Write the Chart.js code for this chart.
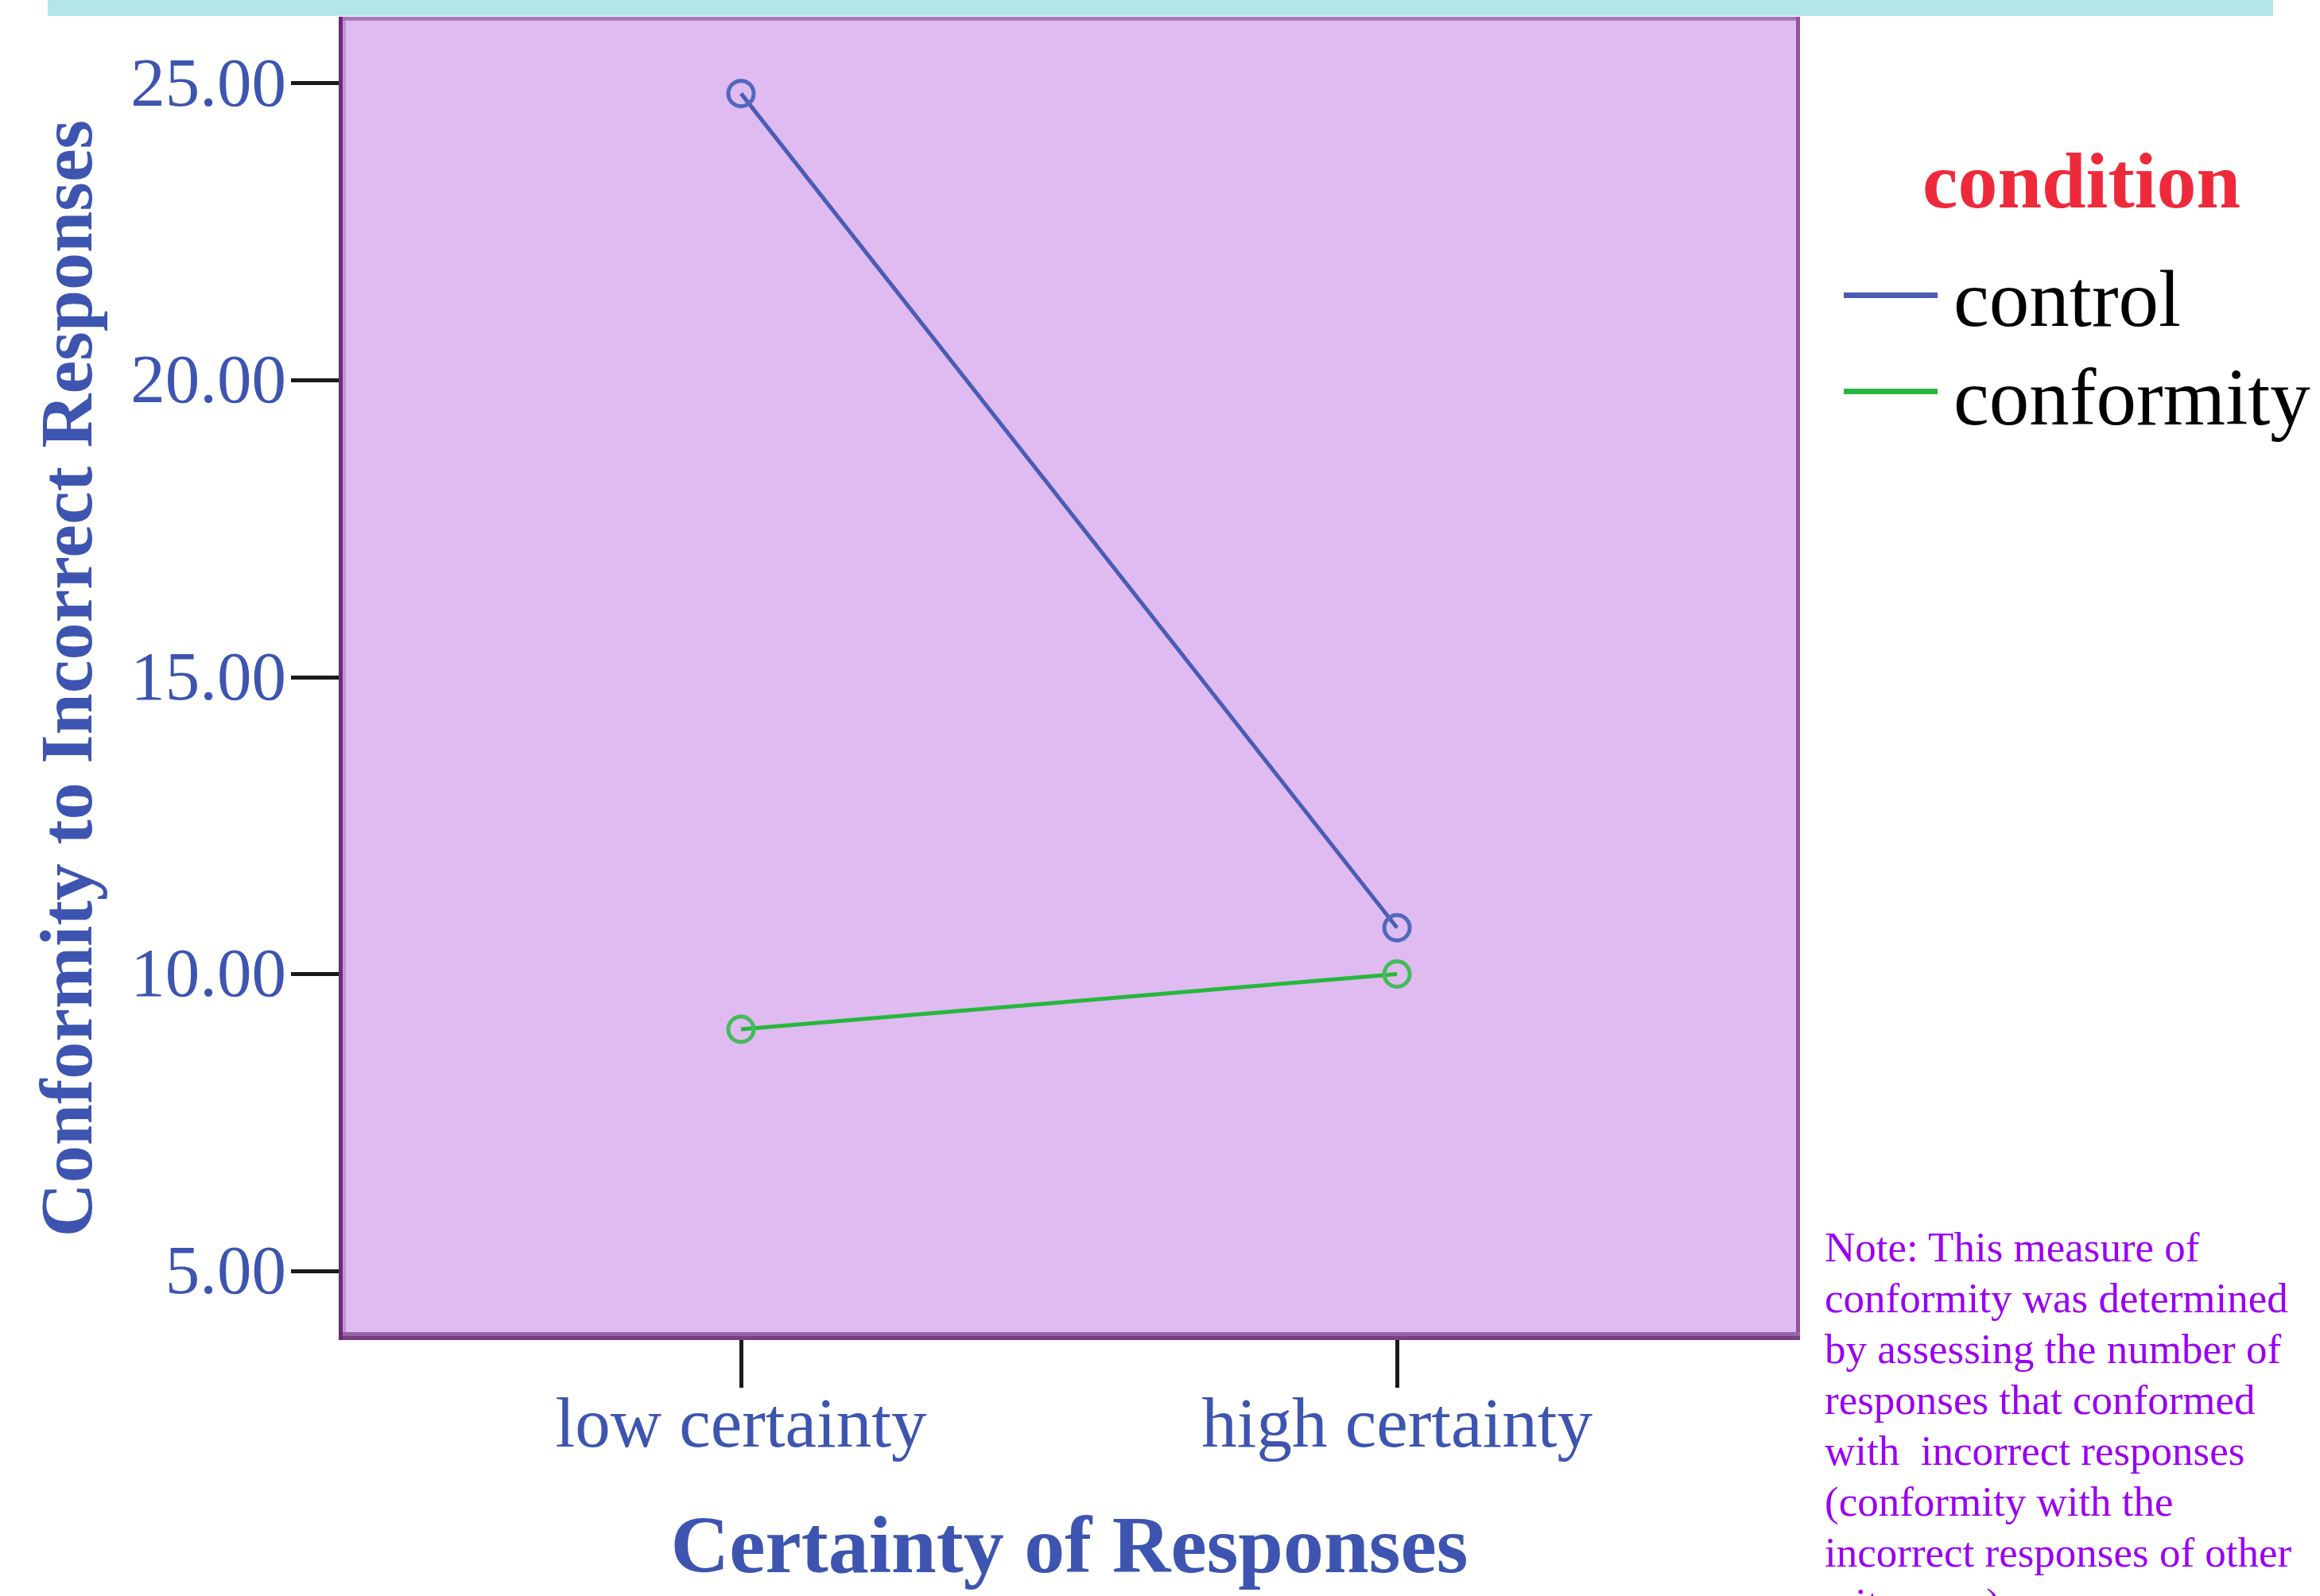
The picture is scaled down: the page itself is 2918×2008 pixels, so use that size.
<!DOCTYPE html>
<html>
<head>
<meta charset="utf-8">
<title>Conformity to Incorrect Responses by Certainty</title>
<script src="https://cdn.jsdelivr.net/npm/chart.js@4/dist/chart.umd.min.js"></script>
<style>
  html, body { margin: 0; padding: 0; background: #ffffff; }
  body { width: 2918px; height: 2008px; overflow: hidden; position: relative; }
  #wrap { position: absolute; left: 0; top: 0; width: 2918px; height: 2008px; }
  #topband { position: absolute; left: 60px; top: 0; width: 2799px; height: 20px; background: #b4e6e8; }
  .serif { font-family: 'Liberation Serif', 'Times New Roman', serif; }
  #legendTitle { position: absolute; left: 2418px; top: 178px; font-size: 100px; line-height: 100px; font-weight: bold; color: #ee2a3a; white-space: nowrap; }
  .legendItem { position: absolute; left: 2319px; height: 101px; white-space: nowrap; }
  .legendItem .swatch { position: absolute; left: 0; width: 118px; height: 7px; }
  .legendItem .label { position: absolute; left: 138px; top: 0; font-size: 101px; line-height: 101px; color: #000000; }
  #note { position: absolute; left: 2295px; top: 1537px; font-size: 53px; line-height: 64px; color: #9a00f2; white-space: pre; }
</style>
</head>
<body>
<div id="wrap">
  <canvas id="chart" width="2918" height="2008"></canvas>
</div>
<div id="topband"></div>
<div id="legendTitle" class="serif"></div>
<div id="legendItems"></div>
<div id="note" class="serif"></div>

<script>
// Category axis labels and the two condition series (means)
const categories = ['low certainty', 'high certainty'];
const controlMeans = [24.83, 10.78];
const conformityMeans = [9.07, 10.00];
const seriesNames = ['control', 'conformity'];
const seriesColors = ['#4a5cb4', '#26b83c'];
const markerColors = ['#5268bc', '#44bb5a'];
const yTickValues = [5, 10, 15, 20, 25];
const xTitle = 'Certainty of Responses';
const yTitle = 'Conformity to Incorrect Responses';
const legendTitle = 'condition';
const noteLines = [
  'Note: This measure of',
  'conformity was determined',
  'by assessing the number of',
  'responses that conformed',
  'with  incorrect responses',
  '(conformity with the',
  'incorrect responses of other',
  'witnesses).'
];

const SERIF = "'Liberation Serif', 'Times New Roman', serif";
const BLUE_TEXT = '#3d55b0';

// Lavender plot panel with its purple frame
const plotPanel = {
  id: 'plotPanel',
  beforeDraw(chart) {
    const { ctx, chartArea: a } = chart;
    ctx.save();
    ctx.fillStyle = '#dfbbf2';
    ctx.fillRect(a.left, a.top, a.right - a.left, a.bottom - a.top);
    ctx.restore();
  },
  afterDraw(chart) {
    const { ctx, chartArea: a } = chart;
    ctx.save();
    // top edge
    ctx.fillStyle = '#a976bd';
    ctx.fillRect(a.left, a.top, a.right - a.left, 5);
    // right edge
    ctx.fillStyle = '#9452a2';
    ctx.fillRect(a.right - 5, a.top, 5, a.bottom - a.top);
    // bottom edge (two tones)
    ctx.fillStyle = '#9664a6';
    ctx.fillRect(a.left, a.bottom - 10, a.right - a.left, 5);
    ctx.fillStyle = '#764182';
    ctx.fillRect(a.left, a.bottom - 5, a.right - a.left, 5);
    // left edge
    ctx.fillStyle = '#6b2a76';
    ctx.fillRect(a.left, a.top, 5, a.bottom - a.top);
    ctx.fillStyle = '#c592d6';
    ctx.fillRect(a.left + 5, a.top + 5, 4, a.bottom - a.top - 15);
    ctx.restore();
  }
};

const toPoints = (vals) => vals.map((v, i) => ({ x: i, y: v }));
const seriesValues = [controlMeans, conformityMeans];

new Chart(document.getElementById('chart'), {
  type: 'line',
  data: {
    datasets: seriesNames.map((name, i) => ({
      label: name,
      data: toPoints(seriesValues[i]),
      borderColor: seriesColors[i],
      borderWidth: 5,
      pointStyle: 'circle',
      pointRadius: 16,
      pointBorderWidth: 5,
      pointBorderColor: markerColors[i],
      pointBackgroundColor: 'rgba(0,0,0,0)',
      fill: false,
      tension: 0
    }))
  },
  options: {
    responsive: false,
    animation: false,
    devicePixelRatio: 1,
    layout: { padding: { left: 0, top: 20, right: 654, bottom: 0 } },
    plugins: {
      legend: { display: false },
      tooltip: { enabled: false }
    },
    scales: {
      x: {
        type: 'linear',
        min: -0.6133,
        max: 1.6144,
        afterBuildTicks: (scale) => { scale.ticks = categories.map((c, i) => ({ value: i })); },
        afterFit: (scale) => { scale.height = 322; scale.paddingLeft = 0; scale.paddingRight = 0; },
        grid: { display: true, drawOnChartArea: false, drawTicks: true, tickLength: 60, tickWidth: 5, tickColor: '#1a1a1a' },
        border: { display: false },
        ticks: {
          callback: (v) => categories[v],
          color: BLUE_TEXT,
          padding: 6,
          maxRotation: 0,
          font: { family: SERIF, size: 89, lineHeight: 1 }
        },
        title: {
          display: true,
          text: xTitle,
          color: BLUE_TEXT,
          padding: { top: 0, bottom: 5 },
          font: { family: SERIF, size: 102, weight: 'bold', lineHeight: 1 }
        }
      },
      y: {
        type: 'linear',
        min: 3.836,
        max: 26.124,
        afterBuildTicks: (scale) => { scale.ticks = yTickValues.map((v) => ({ value: v })); },
        afterFit: (scale) => { scale.width = 426; scale.paddingTop = 0; scale.paddingBottom = 0; },
        grid: { display: true, drawOnChartArea: false, drawTicks: true, tickLength: 60, tickWidth: 5, tickColor: '#1a1a1a' },
        border: { display: false },
        ticks: {
          callback: (v) => Number(v).toFixed(2),
          color: BLUE_TEXT,
          padding: 6,
          labelOffset: 5,
          font: { family: SERIF, size: 87, lineHeight: 1 }
        },
        title: {
          display: true,
          text: yTitle,
          color: BLUE_TEXT,
          padding: { top: 44, bottom: 0 },
          font: { family: SERIF, size: 94, weight: 'bold', lineHeight: 1 }
        }
      }
    }
  },
  plugins: [plotPanel]
});

// Legend block built from the series definitions
document.getElementById('legendTitle').textContent = legendTitle;
const legendBox = document.getElementById('legendItems');
const legendTops = [326, 450];
seriesNames.forEach((name, i) => {
  const item = document.createElement('div');
  item.className = 'legendItem serif';
  item.style.top = legendTops[i] + 'px';
  const sw = document.createElement('div');
  sw.className = 'swatch';
  sw.style.background = seriesColors[i];
  sw.style.top = (i === 0 ? 42 : 39) + 'px';
  const lb = document.createElement('div');
  lb.className = 'label';
  lb.textContent = name;
  item.appendChild(sw);
  item.appendChild(lb);
  legendBox.appendChild(item);
});

document.getElementById('note').textContent = noteLines.join('\n');
</script>
</body>
</html>
